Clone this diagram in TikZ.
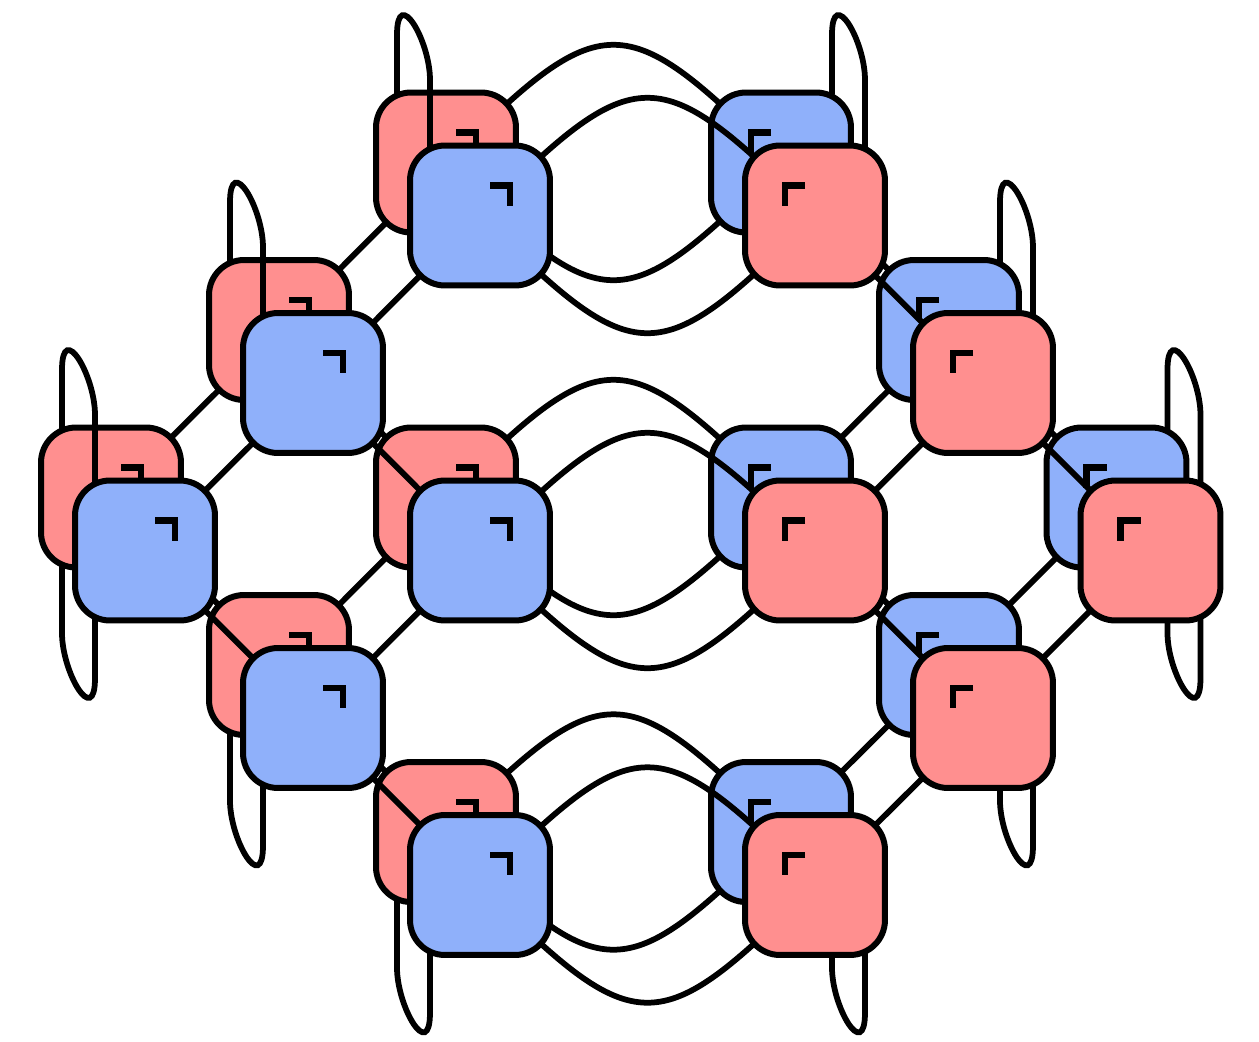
\documentclass[tikz,border=0pt]{standalone}
\usetikzlibrary{calc}
\pgfdeclarelayer{bgedges}
\pgfdeclarelayer{backsq}
\pgfdeclarelayer{midedges}
\pgfsetlayers{bgedges,backsq,midedges,main}
\definecolor{redfill}{RGB}{255,143,143}
\definecolor{bluefill}{RGB}{143,176,250}
\begin{document}
\begin{tikzpicture}[x=0.02cm,y=-0.02cm,
  sq/.style={draw=black,line width=0.12cm,rounded corners=0.7cm,minimum size=2.8cm,inner sep=0pt,outer sep=0pt},
  edge/.style={draw=black,line width=0.115cm},
  corner/.style={draw=black,line width=0.13cm}]
\useasboundingbox (0,0) rectangle (1259,1042);

% back squares
\begin{pgfonlayer}{backsq}
\foreach \n/\x/\y/\c/\s in {1/111/497.5/redfill/1,2/279/330/redfill/1,3/279/665/redfill/1,
  4/446/162.5/redfill/1,5/446/497.5/redfill/1,6/446/832/redfill/1,
  7/781/162.5/bluefill/-1,8/781/497.5/bluefill/-1,9/781/832/bluefill/-1,
  10/949/330/bluefill/-1,11/949/665/bluefill/-1,12/1116.5/497.5/bluefill/-1}{
  \node[sq,fill=\c] (B\n) at (\x,\y) {};
  \draw[corner] ($(B\n)+(10*\s,-30)$) -- ++(20*\s,0) -- ++(0,20);
}
\end{pgfonlayer}

% front squares
\foreach \n/\x/\y/\c/\s in {1/111/497.5/bluefill/1,2/279/330/bluefill/1,3/279/665/bluefill/1,
  4/446/162.5/bluefill/1,5/446/497.5/bluefill/1,6/446/832/bluefill/1,
  7/781/162.5/redfill/-1,8/781/497.5/redfill/-1,9/781/832/redfill/-1,
  10/949/330/redfill/-1,11/949/665/redfill/-1,12/1116.5/497.5/redfill/-1}{
  \node[sq,fill=\c] (F\n) at (\x+34,\y+53) {};
  \draw[corner] ($(F\n)+(10*\s,-30)$) -- ++(20*\s,0) -- ++(0,20);
}

% back-to-back connectors
\begin{pgfonlayer}{bgedges}
\foreach \a/\b in {1/2,1/3,2/4,2/5,3/5,3/6,7/10,8/10,8/11,9/11,10/12,11/12}
  \draw[edge] (B\a.center) -- (B\b.center);
\foreach \a/\b in {4/7,5/8,6/9}{
  \draw[edge] (B\a.center) to[out=45,in=135,distance=4.44cm] (B\b.center);
  \draw[edge] (B\a.center) to[out=-45,in=-135,distance=4.44cm] (B\b.center);
}
\end{pgfonlayer}

% front-to-front connectors and loops
\begin{pgfonlayer}{midedges}
\foreach \a/\b in {1/2,1/3,2/4,2/5,3/5,3/6,7/10,8/10,8/11,9/11,10/12,11/12}
  \draw[edge] (F\a.center) -- (F\b.center);
\foreach \a/\b in {4/7,5/8,6/9}{
  \draw[edge] (F\a.center) to[out=45,in=135,distance=4.44cm] (F\b.center);
  \draw[edge] (F\a.center) to[out=-45,in=-135,distance=4.44cm] (F\b.center);
}
\foreach \n/\dB/\dF in {1/-49/-50,2/-49/-50,4/-49/-50,7/51/50,10/51/50,12/51/50}
  \draw[edge] ($(B\n.north)+(\dB,2)$) -- ($(B\n.north)+(\dB,-57.5)$)
    .. controls ($(B\n.north)+(\dB,-107.5)$) and ($(F\n.north)+(\dF,-105.5)$)
    .. ($(F\n.north)+(\dF,-65.5)$) -- ($(F\n.north)+(\dF,2)$);
\foreach \n/\dB/\dF in {1/-49/-50,3/-49/-50,6/-49/-50,9/51/50,11/51/50,12/51/50}
  \draw[edge] ($(B\n.south)+(\dB,-2)$) -- ($(B\n.south)+(\dB,65.5)$)
    .. controls ($(B\n.south)+(\dB,105.5)$) and ($(F\n.south)+(\dF,107.5)$)
    .. ($(F\n.south)+(\dF,57.5)$) -- ($(F\n.south)+(\dF,-2)$);
\end{pgfonlayer}
\end{tikzpicture}
\end{document}
